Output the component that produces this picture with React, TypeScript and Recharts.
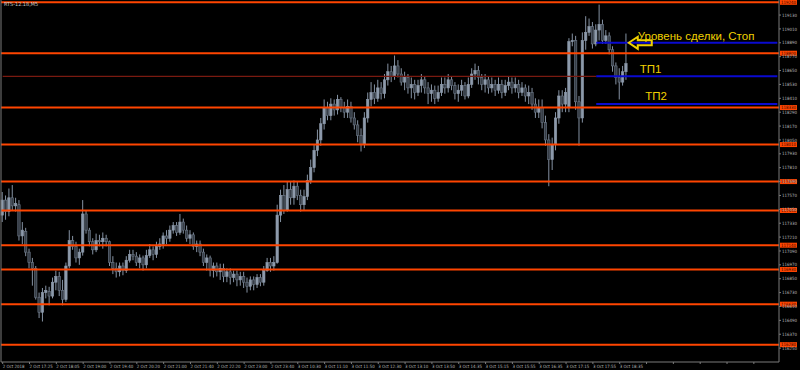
import React from "react";
import { ComposedChart, Bar, XAxis, YAxis, ReferenceLine, ReferenceDot } from "recharts";

// RTS-12.18 M5, 2-3 Oct 2018 (8 bars per row = one time label)
const OPEN = [
  117400, 117530, 117430, 117550, 117480, 117490, 117220, 117260,
  117080, 116990, 116940, 116690, 116560, 116730, 116740, 116700,
  116820, 116870, 116750, 116670, 116960, 117180, 117130, 117030,
  117080, 117410, 117270, 117170, 117100, 117180, 117170, 117200,
  117170, 116990, 116940, 116910, 116960, 116920, 117010, 117060,
  117045, 116990, 117030, 116970, 117050, 117100, 117060, 117130,
  117150, 117220, 117200, 117270, 117310, 117250, 117340, 117270,
  117200, 117230, 117130, 117150, 117080, 116990, 117030, 116920,
  116960, 116910, 116940, 116870, 116910, 116860, 116890, 116840,
  116870, 116820, 116785, 116840, 116800, 116860, 116820, 116920,
  116990, 116960, 116990, 117400, 117570, 117440, 117620, 117550,
  117650, 117570, 117490, 117560, 117700, 117810, 117960, 118050,
  118190, 118330, 118260, 118360, 118310, 118400, 118330, 118290,
  118340, 118240, 118180, 118090, 118010, 118240, 118400, 118460,
  118410, 118500, 118450, 118570, 118640, 118600, 118690, 118620,
  118550, 118590, 118500, 118530, 118460, 118520, 118570, 118500,
  118450, 118480, 118410, 118460, 118530, 118500, 118570, 118520,
  118450, 118480, 118520, 118430, 118530, 118620, 118650, 118590,
  118530, 118570, 118500, 118530, 118480, 118530, 118460, 118520,
  118550, 118500, 118530, 118460, 118500, 118430, 118460, 118360,
  118290, 118330, 118200, 118050, 117880, 118010, 118240, 118430,
  118360, 118330, 118900, 118910, 118380, 118240, 118910, 118980,
  119030, 118880, 119000, 119050, 118910, 118950, 118830, 118690,
  118590, 118550, 118640,
];
const HIGH = [
  117600, 117570, 117630, 117660, 117550, 117530, 117340, 117290,
  117110, 117030, 116960, 116730, 116770, 116790, 116780, 116860,
  116920, 116910, 116840, 116990, 117270, 117220, 117170, 117110,
  117530, 117440, 117290, 117200, 117240, 117230, 117250, 117230,
  117180, 117045, 116990, 116990, 116990, 117045, 117100, 117100,
  117080, 117060, 117050, 117100, 117150, 117130, 117170, 117200,
  117250, 117270, 117310, 117340, 117340, 117410, 117370, 117310,
  117270, 117250, 117180, 117180, 117110, 117060, 117050, 116990,
  116990, 116980, 116980, 116940, 116940, 116920, 116920, 116910,
  116910, 116860, 116870, 116870, 116890, 116890, 116960, 117030,
  117030, 117045, 117490, 117620, 117660, 117690, 117690, 117700,
  117690, 117620, 117620, 117750, 117880, 118010, 118140, 118240,
  118400, 118380, 118410, 118400, 118440, 118420, 118380, 118400,
  118380, 118290, 118220, 118150, 118290, 118460, 118550, 118530,
  118570, 118550, 118620, 118710, 118690, 118780, 118740, 118670,
  118640, 118620, 118590, 118570, 118570, 118620, 118600, 118550,
  118530, 118520, 118520, 118590, 118590, 118620, 118600, 118550,
  118530, 118570, 118550, 118590, 118670, 118710, 118690, 118620,
  118620, 118600, 118590, 118570, 118590, 118570, 118570, 118600,
  118590, 118590, 118570, 118550, 118530, 118520, 118500, 118410,
  118400, 118400, 118260, 118100, 118070, 118290, 118480, 118480,
  118500, 118930, 118970, 118950, 118430, 118980, 119120, 119100,
  119070, 119050, 119220, 119090, 119000, 118980, 118860, 118720,
  118670, 118690, 118970,
];
const LOW = [
  117340, 117360, 117390, 117440, 117430, 117180, 117150, 117045,
  116940, 116790, 116670, 116510, 116480, 116680, 116620, 116680,
  116750, 116700, 116620, 116650, 116940, 117100, 116990, 116970,
  117050, 117240, 117130, 117060, 117080, 117130, 117110, 117130,
  116960, 116890, 116860, 116870, 116880, 116900, 116990, 117010,
  116960, 116940, 116920, 116940, 117030, 117010, 117030, 117100,
  117110, 117150, 117170, 117240, 117220, 117230, 117240, 117170,
  117150, 117100, 117080, 117045, 116960, 116920, 116870, 116860,
  116870, 116840, 116820, 116820, 116800, 116820, 116785, 116790,
  116770, 116730, 116750, 116750, 116770, 116785, 116790, 116910,
  116910, 116920, 116980, 117340, 117410, 117430, 117490, 117490,
  117530, 117430, 117440, 117530, 117670, 117770, 117910, 118000,
  118140, 118220, 118220, 118260, 118270, 118290, 118240, 118240,
  118200, 118140, 118030, 117950, 117980, 118200, 118340, 118360,
  118380, 118400, 118410, 118520, 118550, 118570, 118590, 118520,
  118480, 118450, 118410, 118400, 118430, 118460, 118450, 118360,
  118380, 118360, 118380, 118430, 118450, 118460, 118480, 118400,
  118380, 118430, 118400, 118410, 118500, 118570, 118530, 118480,
  118460, 118450, 118460, 118430, 118450, 118410, 118430, 118480,
  118450, 118460, 118410, 118430, 118380, 118360, 118310, 118240,
  118240, 118150, 118000, 117650, 117790, 117960, 118190, 118290,
  118290, 118290, 118860, 118310, 118000, 118200, 118830, 118950,
  118840, 118860, 118910, 118880, 118880, 118790, 118640, 118530,
  118400, 118520, 118570,
];
const CLOSE = [
  117530, 117430, 117550, 117480, 117500, 117220, 117270, 117080,
  116990, 116940, 116690, 116560, 116730, 116750, 116700, 116820,
  116870, 116750, 116670, 116960, 117180, 117130, 117030, 117080,
  117410, 117270, 117170, 117100, 117180, 117170, 117200, 117170,
  116990, 116940, 116910, 116960, 116920, 117010, 117060, 117045,
  116990, 117030, 116970, 117050, 117100, 117060, 117130, 117150,
  117220, 117200, 117270, 117310, 117250, 117340, 117270, 117200,
  117230, 117130, 117150, 117080, 116990, 117030, 116920, 116960,
  116910, 116940, 116870, 116910, 116860, 116890, 116840, 116870,
  116820, 116785, 116840, 116800, 116860, 116820, 116920, 116990,
  116960, 116990, 117400, 117570, 117440, 117620, 117550, 117650,
  117570, 117490, 117560, 117700, 117810, 117960, 118050, 118190,
  118330, 118260, 118360, 118310, 118400, 118330, 118290, 118340,
  118240, 118180, 118090, 118010, 118240, 118400, 118460, 118410,
  118500, 118450, 118570, 118640, 118600, 118690, 118620, 118550,
  118590, 118500, 118530, 118460, 118520, 118570, 118500, 118450,
  118480, 118410, 118460, 118530, 118500, 118570, 118520, 118450,
  118480, 118520, 118430, 118530, 118620, 118650, 118590, 118530,
  118570, 118500, 118530, 118480, 118530, 118460, 118520, 118550,
  118500, 118530, 118460, 118500, 118430, 118460, 118360, 118290,
  118330, 118200, 118050, 117880, 118010, 118240, 118430, 118360,
  118460, 118900, 118910, 118380, 118240, 118910, 118980, 119030,
  118880, 119000, 119050, 118910, 118950, 118830, 118690, 118590,
  118550, 118640, 118710,
];

const TIME_LABELS = [
  "2 Oct 2018", "2 Oct 17:25", "2 Oct 18:05", "2 Oct 19:00", "2 Oct 19:40", "2 Oct 20:20",
  "2 Oct 21:00", "2 Oct 21:40", "2 Oct 22:20", "2 Oct 23:00", "2 Oct 23:40", "3 Oct 10:30",
  "3 Oct 11:10", "3 Oct 11:50", "3 Oct 12:30", "3 Oct 13:10", "3 Oct 13:50", "3 Oct 14:35",
  "3 Oct 15:15", "3 Oct 15:55", "3 Oct 16:35", "3 Oct 17:15", "3 Oct 17:55", "3 Oct 18:35",
];

const PRICE_TICKS = [
  119130, 119010, 118890, 118770, 118650, 118530, 118410, 118290, 118170, 118050,
  117930, 117810, 117690, 117570, 117450, 117330, 117210, 117090, 116970, 116850,
  116730, 116610, 116490, 116370, 116250,
];

// horizontal levels (orange) and trade lines (blue)
const LEVELS = [119240, 118800, 118330, 118010, 117690, 117440, 117140, 116930, 116630, 116280];
const ENTRY = 118890;
const TP1 = 118600;
const TP2 = 118360;

const SLOTS = 232; // bars + chart shift on the right
const TRADE_FROM = 177;

const BULL = "#8d9aab";
const BEAR = "#363d46";
const BEAR_EDGE = "#6c7888";
const WICK = "#8592a3";
const ORANGE = "#ff4500";
const BLUE = "#0a0ad0";
const YELLOW = "#f0d000";
const AXIS = "#7a7a7a";
const LABEL = "#b8b8b8";
const TINY = "DejaVu Sans Condensed, DejaVu Sans, sans-serif";

const data = Array.from({ length: SLOTS }, (_, i) =>
  i < OPEN.length ? { i, o: OPEN[i], h: HIGH[i], l: LOW[i], c: CLOSE[i] } : { i }
);

function Candle(props: any) {
  const { x, y, width, height, payload } = props;
  if (!payload || payload.o == null) return <g />;
  const { o, h, l, c } = payload;
  const k = h === l ? 0 : height / (h - l);
  const yOf = (v: number) => y + (h - v) * k;
  const mid = x + width / 2;
  const top = yOf(Math.max(o, c));
  const bh = Math.max(1, Math.abs(yOf(o) - yOf(c)));
  const up = c >= o;
  return (
    <g>
      <line x1={mid} x2={mid} y1={y} y2={y + height} stroke={WICK} strokeWidth={1} />
      <rect
        x={x}
        y={top}
        width={width}
        height={bh}
        fill={up ? BULL : BEAR}
        stroke={up ? BULL : BEAR_EDGE}
        strokeWidth={0.6}
      />
    </g>
  );
}

function TimeTick(props: any) {
  const { x, y, payload } = props;
  const label = TIME_LABELS[payload.value / 8];
  if (!label) return <g />;
  return (
    <text x={x} y={y} dy={3.5} fontSize={4.4} fill={LABEL} fontFamily={TINY}>
      {label}
    </text>
  );
}

function PriceTick(props: any) {
  const { x, y, payload } = props;
  return (
    <text x={x} y={y} dy={1.6} fontSize={4.4} fill={LABEL} fontFamily={TINY}>
      {payload.value}
    </text>
  );
}

function LevelTag(props: any) {
  const { viewBox, value } = props;
  if (!viewBox) return <g />;
  const x = viewBox.x + viewBox.width + 1;
  const y = viewBox.y;
  return (
    <g>
      <rect x={x} y={y - 2.5} width={17} height={5} fill={ORANGE} />
      <text x={x + 1} y={y + 1.6} fontSize={4.4} fill="#3a0800" fontFamily={TINY}>
        {value}
      </text>
    </g>
  );
}

function EntryMark(props: any) {
  const { cx, cy } = props;
  const pts = [
    [cx - 1, cy],
    [cx + 8, cy - 6],
    [cx + 8, cy - 2.5],
    [cx + 22, cy - 2.5],
    [cx + 22, cy + 2.5],
    [cx + 8, cy + 2.5],
    [cx + 8, cy + 6],
  ]
    .map((p) => p.join(","))
    .join(" ");
  return (
    <g>
      <polygon points={pts} fill="none" stroke={YELLOW} strokeWidth={2} strokeLinejoin="miter" />
      <text x={cx + 8} y={cy - 3} fontSize={11.5} fill={YELLOW} fontFamily="Liberation Sans, Arial, sans-serif">
        Уровень сделки, Стоп
      </text>
    </g>
  );
}

function TpMark(props: any) {
  const { cx, cy, text, dy } = props;
  return (
    <text x={cx} y={cy + dy} fontSize={11.5} fill={YELLOW} fontFamily="Liberation Sans, Arial, sans-serif">
      {text}
    </text>
  );
}

export default function App() {
  return (
    <div style={{ position: "absolute", left: 0, top: 0, width: 800, height: 370, background: "#000" }}>
      <div
        style={{
          position: "absolute",
          left: 4,
          top: 1,
          fontSize: 5.5,
          color: "#c8c8c8",
          fontFamily: TINY,
          zIndex: 2,
        }}
      >
        RTS-12.18,M5
      </div>
      <ComposedChart width={800} height={370} data={data} margin={{ top: 0, right: 0, bottom: 0, left: 0 }}>
        <XAxis
          dataKey="i"
          interval={7}
          height={8}
          tick={<TimeTick />}
          tickSize={2}
          tickMargin={0}
          tickLine={{ stroke: AXIS }}
          axisLine={{ stroke: AXIS }}
        />
        <YAxis
          yAxisId="edge"
          orientation="left"
          width={1}
          tick={false}
          tickLine={false}
          axisLine={{ stroke: AXIS }}
          domain={[0, 1]}
        />
        <YAxis
          orientation="right"
          width={21}
          domain={[116130, 119260]}
          allowDataOverflow
          ticks={PRICE_TICKS}
          interval={0}
          tick={<PriceTick />}
          tickSize={2}
          tickMargin={1}
          tickLine={{ stroke: AXIS }}
          axisLine={{ stroke: AXIS }}
        />
        <Bar
          dataKey={(d: any) => (d.o == null ? null : [d.l, d.h])}
          barSize={2.4}
          isAnimationActive={false}
          shape={(p: any) => <Candle {...p} />}
        />
        {LEVELS.map((lv) => (
          <ReferenceLine key={lv} y={lv} stroke={ORANGE} strokeWidth={2} label={<LevelTag value={lv} />} />
        ))}
        <ReferenceLine
          segment={[{ x: 0, y: TP1 }, { x: TRADE_FROM, y: TP1 }]}
          stroke="#7a1a10"
          strokeWidth={1.2}
        />
        {[ENTRY, TP1, TP2].map((v) => (
          <ReferenceLine
            key={v}
            segment={[{ x: TRADE_FROM, y: v }, { x: SLOTS - 1, y: v }]}
            stroke={BLUE}
            strokeWidth={2}
          />
        ))}
        <ReferenceDot x={187} y={ENTRY} r={0} shape={(p: any) => <EntryMark cx={p.cx} cy={p.cy} />} />
        <ReferenceDot x={190} y={TP1} r={0} shape={(p: any) => <TpMark cx={p.cx} cy={p.cy} text="ТП1" dy={-3} />} />
        <ReferenceDot x={191} y={TP2} r={0} shape={(p: any) => <TpMark cx={p.cx + 2} cy={p.cy} text="ТП2" dy={-4} />} />
      </ComposedChart>
    </div>
  );
}
